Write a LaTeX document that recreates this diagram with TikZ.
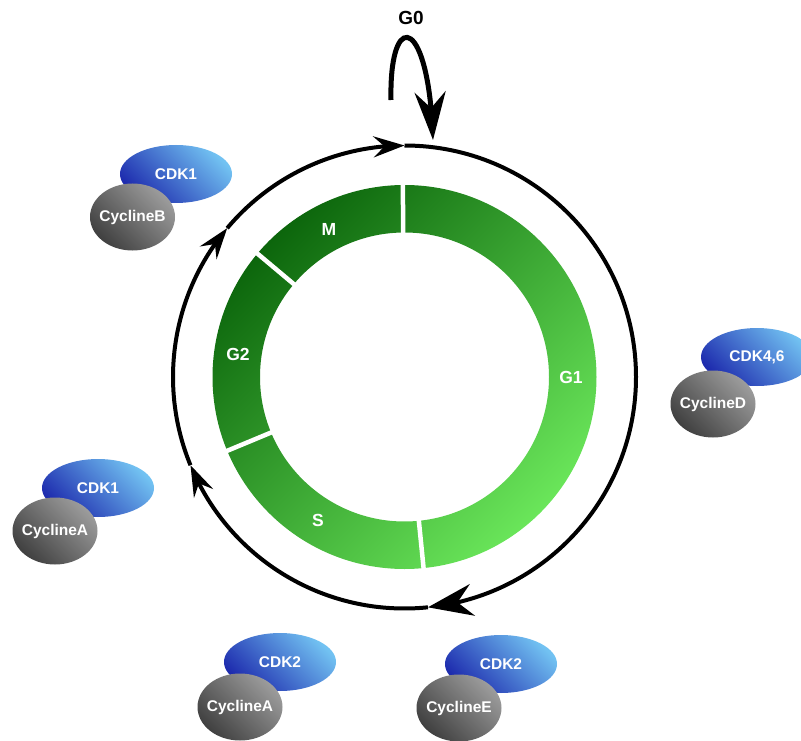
\documentclass[tikz,border=0pt]{standalone}
\usepackage{fontspec}
\setmainfont{Liberation Sans}
\usetikzlibrary{arrows.meta,bending,shapes.geometric}
\definecolor{cdkdark}{HTML}{1E2CAE}
\definecolor{cdklight}{HTML}{72C2F2}
\definecolor{cycdark}{HTML}{404040}
\definecolor{cyclight}{HTML}{9C9C9C}
\definecolor{gdark}{HTML}{0C660C}
\definecolor{glight}{HTML}{6AE65A}
\begin{document}
\begin{tikzpicture}[x=1pt,y=-1pt,
  cycleline/.style={line width=4pt},
  smalltip/.style={-{Stealth[length=31pt,width=21pt,inset=11pt]}},
  bigtip/.style={-{Stealth[length=45pt,width=32pt,inset=15pt]}},
  g0tip/.style={-{Stealth[length=48pt,width=31pt,inset=16pt]}},
  phaselbl/.style={text=white,font=\bfseries\fontsize{17.5}{20}\selectfont},
  celltext/.style={text=white,font=\bfseries\fontsize{15.5}{18}\selectfont,inner sep=0pt},
  cdk/.style={ellipse,minimum width=112pt,minimum height=58pt,inner sep=0pt,
    top color=cdklight,bottom color=cdkdark,shading angle=-45},
  cyc/.style={ellipse,minimum width=85pt,minimum height=67pt,inner sep=0pt,
    top color=cyclight,bottom color=cycdark,shading angle=-45},
  gap/.style={white,line width=4.5pt}]
\useasboundingbox (0,0) rectangle (801,741);
\coordinate (C) at (404.5,377);
% green ring
\shade[even odd rule,top color=gdark,bottom color=glight,shading angle=45]
  (C) circle (192pt) (C) circle (144.5pt);
\foreach \a in {90.5,140,202.6,275.7}
  \draw[gap] (C) ++(\a:138pt) -- ++(\a:62pt);
\node[phaselbl] (M) at (329,229) {M};
\node[phaselbl] (G2) at (238,354) {G2};
\node[phaselbl] (G1) at (571,377) {G1};
\node[phaselbl] (S) at (318,520) {S};
% outer cycle arcs
\draw[cycleline,bigtip] ([shift={(90:231.5pt)}]C) arc[start angle=90,end angle=-84.2,radius=231.5pt];
\draw[cycleline,smalltip] ([shift={(275.8:231.5pt)}]C) arc[start angle=275.8,end angle=202.4,radius=231.5pt];
\draw[cycleline,smalltip] ([shift={(202.4:231.5pt)}]C) arc[start angle=202.4,end angle=140,radius=231.5pt];
\draw[cycleline,smalltip] ([shift={(140:231.5pt)}]C) arc[start angle=140,end angle=90,radius=231.5pt];
% G0 loop
\node[font=\bfseries\fontsize{19}{22}\selectfont] (G0) at (411,18) {G0};
\coordinate (g0s) at (391,100);
\coordinate (g0e) at (433,140);
\draw[line width=5pt,g0tip] (g0s) .. controls (389,8) and (429,14) .. (g0e);
% complexes
\node[cdk] (cdk1b) at (176,174) {};
\node[celltext] at (cdk1b) {CDK1};
\node[cyc] (cycb) at (132.5,217) {};
\node[celltext] at (cycb) {CyclineB};
\node[cdk] (cdk46) at (757,357) {};
\node[celltext] at (cdk46) {CDK4,6};
\node[cyc] (cycd) at (713,404) {};
\node[celltext] at (cycd) {CyclineD};
\node[cdk] (cdk1a) at (98,488) {};
\node[celltext] at (cdk1a) {CDK1};
\node[cyc] (cyca1) at (55,531) {};
\node[celltext] at (cyca1) {CyclineA};
\node[cdk] (cdk2a) at (280,662) {};
\node[celltext] at (cdk2a) {CDK2};
\node[cyc] (cyca2) at (240,707) {};
\node[celltext] at (cyca2) {CyclineA};
\node[cdk] (cdk2e) at (501,664) {};
\node[celltext] at (cdk2e) {CDK2};
\node[cyc] (cyce) at (459,708) {};
\node[celltext] at (cyce) {CyclineE};
\end{tikzpicture}
\end{document}
